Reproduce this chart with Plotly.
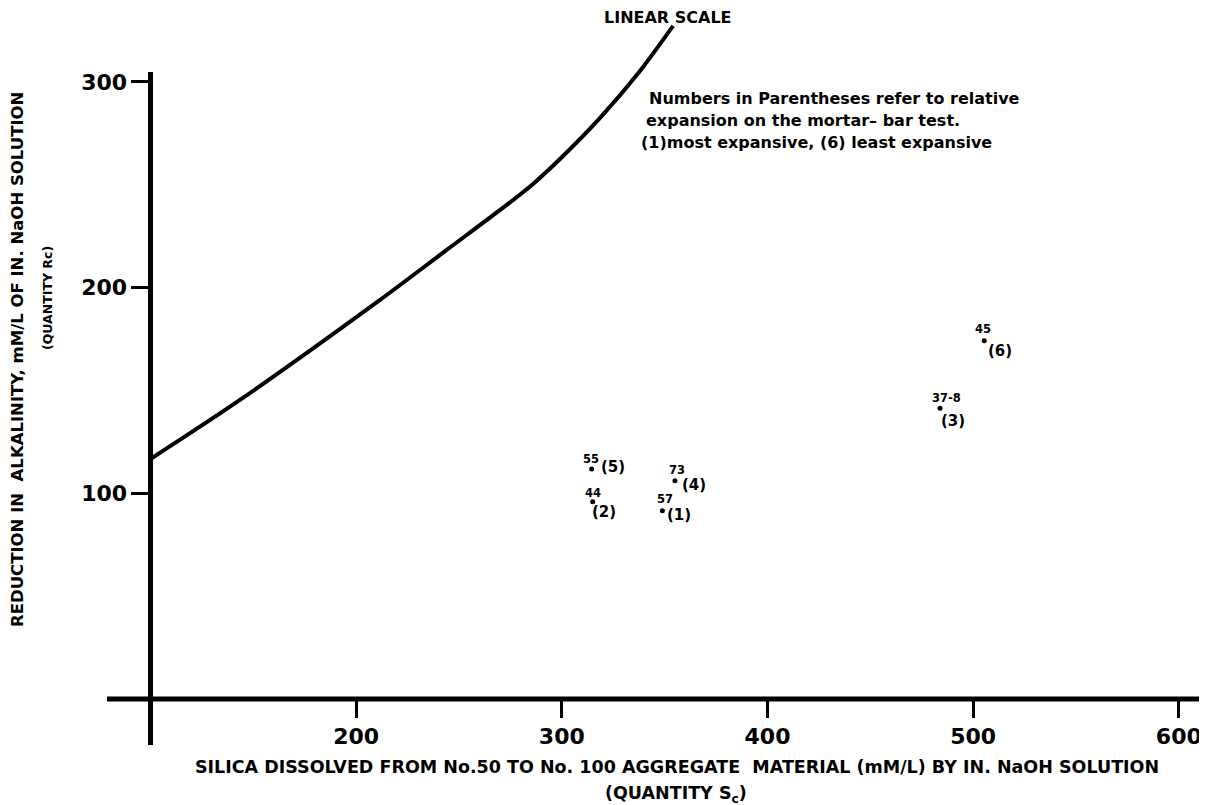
import plotly.graph_objects as go

# ---- data ----
curve_x = [100, 143.5, 211.6, 244.0, 273.2, 286.0, 299.1, 318.6, 338.0, 354.1]
curve_y = [116.7, 145.4, 194.0, 218.3, 240.2, 250.4, 262.5, 282.5, 305.3, 327.2]

sample_x = [314.5, 315.0, 355.0, 348.9, 505.4, 483.9]
sample_y = [111.8, 95.9, 106.1, 91.5, 174.2, 141.3]
sample_id = ["55", "44", "73", "57", "45", "37-8"]
sample_rank = ["(5)", "(2)", "(4)", "(1)", "(6)", "(3)"]

x_ticks = [200, 300, 400, 500, 600]
y_ticks = [100, 200, 300]

# ---- layout geometry (screen pixels; the page body adds an 8px offset) ----
OFF = 8
W, H = 1207 - OFF, 805 - OFF
PL, PR, PT, PB = 107, 1207, 8, 745          # plot area in screen pixels
ML, MR, MT, MB = PL - OFF, W - (PR - OFF), PT - OFF, H - (PB - OFF)
XR = [78.85, 613.7]
YR = [(699 - PB) / 2.057, (699 - PT) / 2.057]
FONT = "DejaVu Sans"

# label pixel offsets (dx right, dy down) for id and rank labels
id_off = [(-1, -10), (0, -9), (2, -11), (3, -12), (-1, -12), (6, -10)]
rank_off = [(21, -2), (11, 10), (19, 4), (17, 4), (16, 10), (13, 13)]


def px_x(px):
    return XR[0] + (px - PL) * (XR[1] - XR[0]) / (PR - PL)


def px_y(py):
    return YR[1] - (py - PT) * (YR[1] - YR[0]) / (PB - PT)


def paper_x(px):
    return (px - PL) / (PR - PL)


def paper_y(py):
    return (PB - py) / (PB - PT)


def bfont(size):
    return dict(family=FONT, size=size, color="black", weight="bold")


def paper_text(text, px, py, size, angle=0):
    return dict(x=paper_x(px), y=paper_y(py), xref="paper", yref="paper",
                text=text, showarrow=False, textangle=angle,
                xanchor="center", yanchor="middle", font=bfont(size))


fig = go.Figure()

fig.add_trace(go.Scatter(
    x=curve_x, y=curve_y, mode="lines",
    line=dict(color="black", width=4, shape="spline", smoothing=0.8),
    hoverinfo="skip", showlegend=False))

fig.add_trace(go.Scatter(
    x=sample_x, y=sample_y, mode="markers",
    marker=dict(color="black", size=5),
    showlegend=False))

ann = []
for i in range(len(sample_x)):
    ann.append(dict(x=sample_x[i], y=sample_y[i], xref="x", yref="y",
                    text=sample_id[i], showarrow=False,
                    xanchor="center", yanchor="middle",
                    xshift=id_off[i][0], yshift=-id_off[i][1],
                    font=bfont(11.5)))
    ann.append(dict(x=sample_x[i], y=sample_y[i], xref="x", yref="y",
                    text=sample_rank[i], showarrow=False,
                    xanchor="center", yanchor="middle",
                    xshift=rank_off[i][0], yshift=-rank_off[i][1],
                    font=bfont(15)))

ann.append(paper_text("LINEAR SCALE", 668, 17, 16))

note_lines = [
    ("Numbers in Parentheses refer to relative", 647, 98),
    ("expansion on the mortar\u2013 bar test.", 644, 120),
    ("(1)most expansive, (6) least expansive", 639, 142),
]
for t, lx, ly in note_lines:
    ann.append(dict(x=px_x(lx), y=px_y(ly), xref="x", yref="y",
                    text=t, showarrow=False, xanchor="left", yanchor="middle",
                    font=bfont(16)))

ann.append(paper_text(
    "SILICA DISSOLVED FROM No.50 TO No. 100 AGGREGATE  MATERIAL (mM/L) BY IN. NaOH SOLUTION",
    677, 767, 17.5))
ann.append(paper_text("(QUANTITY S<sub>c</sub>)", 676, 794, 17.5))
ann.append(paper_text("REDUCTION IN  ALKALINITY, mM/L OF IN. NaOH SOLUTION",
                      17, 360, 16.5, -90))
ann.append(paper_text("(QUANTITY Rc)", 47, 298, 12.5, -90))

shapes = [
    dict(type="line", xref="x", yref="y", x0=100, x1=100, y0=YR[0], y1=px_y(72),
         line=dict(color="black", width=5)),
    dict(type="line", xref="x", yref="y", x0=XR[0], x1=XR[1], y0=0, y1=0,
         line=dict(color="black", width=5)),
]

fig.update_layout(
    width=W, height=H,
    margin=dict(l=ML, r=MR, t=MT, b=MB, autoexpand=False),
    paper_bgcolor="white", plot_bgcolor="white",
    annotations=ann, shapes=shapes,
    xaxis=dict(range=XR, tickvals=x_ticks, ticks="outside", ticklen=18,
               tickwidth=3, tickcolor="black", showline=False, showgrid=False,
               zeroline=False, anchor="free", automargin=False,
               position=(0 - YR[0]) / (YR[1] - YR[0]),
               tickfont=bfont(22)),
    yaxis=dict(range=YR, tickvals=y_ticks, ticks="outside", ticklen=19,
               tickwidth=3, tickcolor="black", showline=False, showgrid=False,
               zeroline=False, anchor="free", automargin=False,
               position=(100 - XR[0]) / (XR[1] - XR[0]),
               tickfont=bfont(22)),
)

fig.write_html("out.html")
